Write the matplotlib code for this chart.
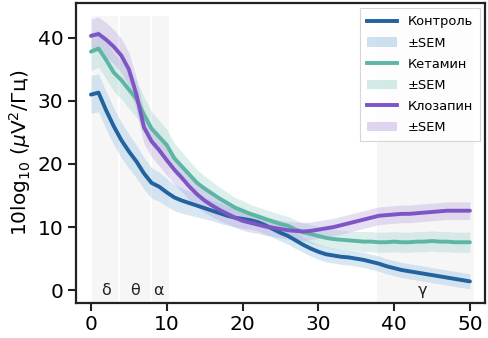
import numpy as np
import matplotlib
matplotlib.use("Agg")
import matplotlib.pyplot as plt
from matplotlib.lines import Line2D
from matplotlib.patches import Patch

freqs = list(range(0, 51))

control = [31.0, 31.3, 28.5, 26.0, 23.8, 22.0, 20.4, 18.5, 17.0, 16.4,
           15.5, 14.7, 14.2, 13.8, 13.4, 13.0, 12.6, 12.2, 11.8, 11.5,
           11.3, 11.1, 10.8, 10.3, 9.7, 9.1, 8.6, 7.9, 7.2, 6.6,
           6.1, 5.7, 5.5, 5.3, 5.2, 5.0, 4.8, 4.5, 4.2, 3.8,
           3.5, 3.2, 3.0, 2.8, 2.6, 2.4, 2.2, 2.0, 1.8, 1.6, 1.4]
control_sem = [3.0, 3.0, 3.0, 2.9, 2.8, 2.7, 2.6, 2.5, 2.4, 2.3,
               2.2, 2.1, 2.0, 1.9, 1.8, 1.7, 1.6, 1.6, 1.5, 1.5,
               1.5, 1.4, 1.4, 1.4, 1.3, 1.3, 1.3, 1.3, 1.2, 1.2,
               1.2, 1.2, 1.2, 1.2, 1.2, 1.2, 1.2, 1.2, 1.2, 1.2,
               1.2, 1.2, 1.2, 1.2, 1.2, 1.2, 1.2, 1.2, 1.2, 1.2, 1.2]

ketamine = [37.8, 38.3, 36.5, 34.5, 33.3, 31.8, 30.3, 27.8, 25.6, 24.3,
            23.0, 20.9, 19.6, 18.3, 17.0, 16.1, 15.3, 14.5, 13.8, 13.1,
            12.6, 12.1, 11.7, 11.3, 10.9, 10.5, 10.2, 9.6, 9.2, 8.9,
            8.6, 8.3, 8.1, 8.0, 7.9, 7.8, 7.7, 7.7, 7.6, 7.6,
            7.7, 7.6, 7.6, 7.7, 7.7, 7.8, 7.7, 7.7, 7.6, 7.6, 7.6]
ketamine_sem = [3.0, 3.0, 3.0, 3.0, 3.0, 3.0, 2.9, 2.8, 2.7, 2.6,
                2.5, 2.4, 2.3, 2.2, 2.1, 2.0, 1.9, 1.8, 1.7, 1.6,
                1.6, 1.5, 1.5, 1.5, 1.5, 1.5, 1.5, 1.5, 1.5, 1.5,
                1.5, 1.5, 1.5, 1.5, 1.5, 1.5, 1.6, 1.6, 1.6, 1.6,
                1.6, 1.6, 1.6, 1.6, 1.6, 1.6, 1.6, 1.6, 1.6, 1.6, 1.6]

clozapine = [40.3, 40.6, 39.7, 38.6, 37.2, 35.0, 31.0, 25.8, 23.6, 22.2,
             20.6, 19.1, 17.8, 16.4, 15.2, 14.2, 13.4, 12.7, 12.1, 11.5,
             11.0, 10.7, 10.4, 10.1, 9.9, 9.7, 9.5, 9.4, 9.3, 9.4,
             9.6, 9.8, 10.0, 10.3, 10.6, 10.9, 11.2, 11.5, 11.8, 11.9,
             12.0, 12.1, 12.1, 12.2, 12.3, 12.4, 12.5, 12.6, 12.6, 12.6, 12.6]
clozapine_sem = [2.7, 2.7, 2.7, 2.7, 2.7, 2.7, 2.6, 2.6, 2.5, 2.5,
                 2.4, 2.3, 2.2, 2.1, 2.0, 1.9, 1.8, 1.7, 1.6, 1.5,
                 1.5, 1.5, 1.4, 1.4, 1.4, 1.4, 1.4, 1.4, 1.4, 1.4,
                 1.4, 1.4, 1.4, 1.4, 1.4, 1.4, 1.4, 1.4, 1.4, 1.4,
                 1.4, 1.4, 1.4, 1.4, 1.4, 1.4, 1.4, 1.4, 1.4, 1.4, 1.4]

series_names = ["Контроль", "Кетамин", "Клозапин"]
colors = ["#21629f", "#5cb6a3", "#7d55c4"]
fill_colors = ["#8fbde0", "#9fd3cc", "#b9a3df"]

band_labels = ["δ", "θ", "α", "γ"]
band_ranges = [(0.2, 3.6), (3.8, 7.8), (8.0, 10.3), (37.8, 50.6)]
band_label_x = [2.0, 5.8, 8.9, 43.8]

plt.rcParams['font.family'] = ['DejaVu Sans']

fig = plt.figure(figsize=(4.89, 3.38), dpi=100)
ax = fig.add_axes([0.155, 0.104, 0.837, 0.887])

ylo, yhi = -2.0, 45.5
ax.set_xlim(-2, 52)
ax.set_ylim(ylo, yhi)

for (x0, x1) in band_ranges:
    ax.axvspan(x0, x1, ymin=0, ymax=(43.5 - ylo) / (yhi - ylo),
               color="#e8e8e8", alpha=0.35, lw=0, zorder=0)
for lab, bx in zip(band_labels, band_label_x):
    ax.text(bx, 0.0, lab, ha="center", va="center", fontsize=11.5, color="#222222")

f = np.array(freqs)
for name, m, s, c, fc in zip(series_names,
                              [control, ketamine, clozapine],
                              [control_sem, ketamine_sem, clozapine_sem],
                              colors, fill_colors):
    m = np.array(m); s = np.array(s)
    ax.fill_between(f, m - s, m + s, color=fc, alpha=0.35, lw=0, zorder=1)
for name, m, c in zip(series_names, [control, ketamine, clozapine], colors):
    ax.plot(f, m, color=c, lw=2.8, zorder=3, solid_capstyle="round")

handles = []
for name, c, fc in zip(series_names, colors, fill_colors):
    handles.append(Line2D([0], [0], color=c, lw=2.8))
    handles.append(Patch(facecolor=fc, alpha=0.45, edgecolor="none"))
labels = []
for name in series_names:
    labels += [name, "±SEM"]

leg = ax.legend(handles, labels, loc="upper right", fontsize=9.4,
                frameon=True, fancybox=False, edgecolor="#cccccc",
                borderaxespad=0.4, handlelength=2.3, labelspacing=0.62,
                borderpad=0.55)
leg.get_frame().set_linewidth(0.8)

ax.set_xticks([0, 10, 20, 30, 40, 50])
ax.set_yticks([0, 10, 20, 30, 40])
ax.tick_params(labelsize=14.5, length=6, width=1.5, color="#222222", pad=3)
for sp in ax.spines.values():
    sp.set_linewidth(1.6)
    sp.set_color("#222222")
ax.set_ylabel("10log$_{10}$ ($\\mu$V$^2$/Гц)", fontsize=14.5, labelpad=3)

fig.savefig("out.png", dpi=100)
